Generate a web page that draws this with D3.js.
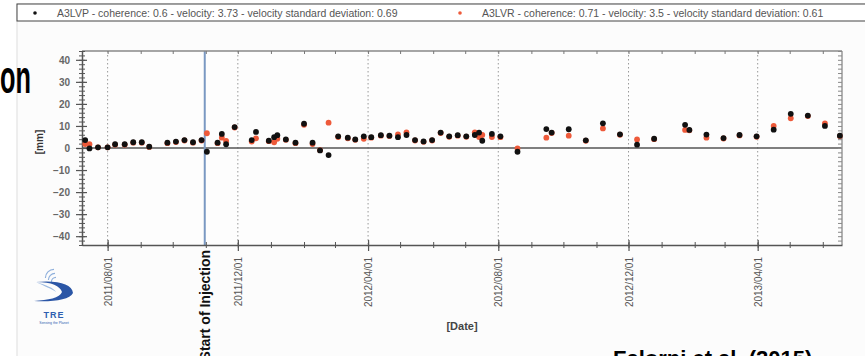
<!DOCTYPE html>
<html>
<head>
<meta charset="utf-8">
<script src="https://cdn.jsdelivr.net/npm/d3@7"></script>
<style>
  body { margin: 0; background: #fff; }
  text { font-family: Arial, "Liberation Sans", sans-serif; }
</style>
</head>
<body>
<div id="chart"></div>
<script>
// acquisition dates (both series share them)
const dates = [
  "2011-07-11", "2011-07-15", "2011-07-23", "2011-08-01", "2011-08-08", "2011-08-17",
  "2011-08-25", "2011-09-02", "2011-09-09", "2011-09-26", "2011-10-04", "2011-10-12",
  "2011-10-20", "2011-10-28", "2011-11-02", "2011-11-12", "2011-11-16", "2011-11-20",
  "2011-11-28", "2011-12-14", "2011-12-18", "2011-12-30", "2012-01-04", "2012-01-07",
  "2012-01-15", "2012-01-24", "2012-02-01", "2012-02-09", "2012-02-16", "2012-02-24",
  "2012-03-04", "2012-03-13", "2012-03-20", "2012-03-28", "2012-04-04", "2012-04-13",
  "2012-04-21", "2012-04-29", "2012-05-07", "2012-05-15", "2012-05-23", "2012-05-31",
  "2012-06-08", "2012-06-16", "2012-06-24", "2012-07-02", "2012-07-10", "2012-07-14",
  "2012-07-17", "2012-07-26", "2012-08-03", "2012-08-19", "2012-09-15", "2012-09-20",
  "2012-10-06", "2012-10-22", "2012-11-07", "2012-11-23", "2012-12-09", "2012-12-25",
  "2013-01-23", "2013-01-27", "2013-02-12", "2013-02-28", "2013-03-15", "2013-03-31",
  "2013-04-16", "2013-05-02", "2013-05-18", "2013-06-03", "2013-06-17"
];

// A3LVP (black) displacement [mm]
const valuesLVP = [
  3.6, -0.2, 0.3, 0.3, 1.7, 1.7, 2.6, 2.6, 0.6, 2.4, 2.9, 3.6,
  2.6, 3.6, -1.7, 2.4, 6.4, 1.7, 9.5, 3.6, 7.3, 3.3, 4.9, 5.8,
  3.9, 2.4, 11.0, 2.4, -1.1, -3.2, 5.3, 4.7, 3.9, 5.3, 4.9, 5.8,
  5.6, 4.9, 5.9, 3.6, 3.0, 3.6, 7.0, 5.3, 5.8, 5.3, 5.9, 7.0,
  3.3, 6.4, 5.3, -1.7, 8.6, 7.0, 8.5, 3.5, 11.2, 6.2, 1.5, 4.2,
  10.5, 8.2, 6.1, 4.5, 5.9, 5.3, 8.3, 15.5, 14.7, 10.0, 5.6
];

// A3LVR (red) displacement [mm]
const valuesLVR = [
  1.8, 1.7, 0.3, 0.3, 1.5, 1.5, 2.4, 2.4, 0.5, 2.2, 2.7, 3.4,
  2.4, 3.4, 6.7, 2.2, 4.7, 3.2, 9.3, 2.9, 4.4, 3.1, 2.6, 4.2,
  3.7, 2.2, 10.5, 1.8, -1.0, 11.5, 5.0, 4.4, 3.7, 4.2, 4.7, 5.6,
  5.4, 6.2, 7.1, 3.4, 2.8, 3.4, 6.8, 5.1, 5.6, 5.1, 7.1, 5.0,
  5.9, 5.0, 4.9, -0.2, 4.7, 6.8, 5.6, 3.3, 8.9, 6.0, 3.9, 4.0,
  8.2, 8.0, 4.7, 4.3, 5.7, 5.1, 10.0, 13.5, 14.5, 11.2, 5.4
];

const legendLabels = [
  "A3LVP - coherence: 0.6 - velocity: 3.73 - velocity standard deviation: 0.69",
  "A3LVR - coherence: 0.71 - velocity: 3.5 - velocity standard deviation: 0.61"
];
const majorTicks = ["2011-08-01", "2011-12-01", "2012-04-01", "2012-08-01", "2012-12-01", "2013-04-01"];
const yTicks = [-40, -30, -20, -10, 0, 10, 20, 30, 40];
const injectionDate = "2011-10-31";

const parse = d3.timeParse("%Y-%m-%d");
const fmt = d3.timeFormat("%Y/%m/%d");

const width = 865, height = 356;
const plotLeft = 82, plotRight = 842, plotTop = 51, plotBottom = 245;

const svg = d3.select("#chart").append("svg")
  .attr("width", width)
  .attr("height", height);

// panel
svg.append("rect")
  .attr("x", 17).attr("y", 4).attr("width", 870).attr("height", 360)
  .attr("fill", "#fcfcfc").attr("stroke", "#ddd");

const x = d3.scaleTime()
  .domain([parse("2011-07-08"), parse("2013-06-19")])
  .range([plotLeft, plotRight]);

const y = d3.scaleLinear()
  .domain([-44, 44])
  .range([plotBottom, plotTop]);

// plot background
svg.append("rect")
  .attr("x", plotLeft).attr("y", plotTop)
  .attr("width", plotRight - plotLeft).attr("height", plotBottom - plotTop)
  .attr("fill", "#fdfdfd");

// dotted grid at major dates
svg.append("g").selectAll("line")
  .data(majorTicks.map(parse))
  .join("line")
  .attr("x1", d => x(d)).attr("x2", d => x(d))
  .attr("y1", plotTop).attr("y2", plotBottom)
  .attr("stroke", "#999").attr("stroke-dasharray", "1.5,2.5");

// zero line
svg.append("line")
  .attr("x1", plotLeft).attr("x2", plotRight)
  .attr("y1", y(0)).attr("y2", y(0))
  .attr("stroke", "#555").attr("stroke-width", 1.5);

// start of injection
svg.append("line")
  .attr("x1", x(parse(injectionDate))).attr("x2", x(parse(injectionDate)))
  .attr("y1", plotTop).attr("y2", plotBottom)
  .attr("stroke", "#7a98c2").attr("stroke-width", 2);

// top and right borders
svg.append("line").attr("x1", plotLeft).attr("x2", plotRight).attr("y1", plotTop).attr("y2", plotTop)
  .attr("stroke", "#888").attr("stroke-width", 1.5);
svg.append("line").attr("x1", plotRight).attr("x2", plotRight).attr("y1", plotTop).attr("y2", plotBottom)
  .attr("stroke", "#999").attr("stroke-width", 1.5);

const months = d3.timeMonth.range(x.domain()[0], x.domain()[1]);
const minorY = d3.range(-44, 45, 2);

// top monthly ticks
svg.append("g")
  .attr("transform", `translate(0,${plotTop})`)
  .call(d3.axisTop(x).tickValues(months).tickSize(-3).tickFormat(""))
  .call(g => g.select(".domain").remove())
  .call(g => g.selectAll("line").attr("stroke", "#777"));

// right minor ticks
svg.append("g")
  .attr("transform", `translate(${plotRight},0)`)
  .call(d3.axisRight(y).tickValues(minorY).tickSize(-4).tickFormat(""))
  .call(g => g.select(".domain").remove())
  .call(g => g.selectAll("line").attr("stroke", "#888"));

// left minor ticks
svg.append("g")
  .attr("transform", `translate(${plotLeft},0)`)
  .call(d3.axisLeft(y).tickValues(minorY).tickSize(3).tickFormat(""))
  .call(g => g.select(".domain").remove())
  .call(g => g.selectAll("line").attr("x2", -3).attr("x1", 3).attr("stroke", "#555"));

// left axis
svg.append("g")
  .attr("transform", `translate(${plotLeft},0)`)
  .call(d3.axisLeft(y).tickValues(yTicks).tickSize(6).tickPadding(6).tickSizeOuter(0))
  .call(g => g.select(".domain").attr("stroke", "#555").attr("stroke-width", 1.5))
  .call(g => g.selectAll(".tick line").attr("x1", 5).attr("stroke", "#555").attr("stroke-width", 1.2))
  .call(g => g.selectAll(".tick text")
    .attr("fill", "#666").attr("font-size", 10).attr("font-weight", "bold")
    .attr("font-family", "Arial, 'Liberation Sans', sans-serif"));

// bottom monthly ticks
svg.append("g")
  .attr("transform", `translate(0,${plotBottom})`)
  .call(d3.axisBottom(x).tickValues(months).tickSize(3).tickFormat(""))
  .call(g => g.select(".domain").remove())
  .call(g => g.selectAll("line").attr("y1", -3).attr("stroke", "#555"));

// bottom axis
svg.append("g")
  .attr("transform", `translate(0,${plotBottom})`)
  .call(d3.axisBottom(x).tickValues(majorTicks.map(parse)).tickFormat(fmt).tickSize(6).tickSizeOuter(0))
  .call(g => g.select(".domain").attr("stroke", "#555").attr("stroke-width", 1.5))
  .call(g => g.selectAll(".tick line").attr("y1", -5).attr("stroke", "#555").attr("stroke-width", 1.2))
  .call(g => g.selectAll(".tick text")
    .attr("transform", "rotate(-90)")
    .attr("text-anchor", "end")
    .attr("x", -12).attr("y", 0).attr("dy", "0.35em")
    .attr("fill", "#555").attr("font-size", 10)
    .attr("font-family", "Arial, 'Liberation Sans', sans-serif"));

// points: red first, black on top
const pts = svg.append("g");
pts.selectAll(".lvr")
  .data(dates.map((d, i) => ({ date: parse(d), v: valuesLVR[i] })))
  .join("circle")
  .attr("class", "lvr")
  .attr("cx", d => x(d.date)).attr("cy", d => y(d.v))
  .attr("r", 2.9).attr("fill", "#ee5a3a");
pts.selectAll(".lvp")
  .data(dates.map((d, i) => ({ date: parse(d), v: valuesLVP[i] })))
  .join("circle")
  .attr("class", "lvp")
  .attr("cx", d => x(d.date)).attr("cy", d => y(d.v))
  .attr("r", 2.9).attr("fill", "#111");

// axis titles
svg.append("text")
  .attr("transform", "translate(43,142) rotate(-90)")
  .attr("text-anchor", "middle")
  .attr("font-size", 10).attr("font-weight", "bold").attr("fill", "#333")
  .text("[mm]");

svg.append("text")
  .attr("x", 462).attr("y", 330)
  .attr("text-anchor", "middle")
  .attr("font-size", 11).attr("font-weight", "bold").attr("fill", "#444")
  .text("[Date]");

svg.append("text")
  .attr("transform", `translate(${x(parse(injectionDate)) + 5},250) rotate(-90)`)
  .attr("text-anchor", "end")
  .attr("font-size", 14).attr("font-weight", "bold").attr("fill", "#111")
  .text("Start of Injection");

// legend
const legend = svg.append("g");
legend.append("rect")
  .attr("x", 17).attr("y", 4).attr("width", 870).attr("height", 17)
  .attr("fill", "#fff").attr("stroke", "#444");
const legendX = [35, 460];
const legendColors = ["#111", "#ee5a3a"];
legendLabels.forEach((label, i) => {
  legend.append("circle").attr("cx", legendX[i]).attr("cy", 13).attr("r", 1.8).attr("fill", legendColors[i]);
  legend.append("text")
    .attr("x", legendX[i] + 22).attr("y", 16.5)
    .attr("font-size", 10.5).attr("fill", "#555")
    .text(label);
});

// slide text fragments
svg.append("text")
  .attr("transform", "translate(0,93) scale(0.55,1)")
  .attr("font-size", 46).attr("font-weight", "bold").attr("fill", "#000")
  .text("on");

svg.append("text")
  .attr("x", 613).attr("y", 366)
  .attr("font-size", 22).attr("font-weight", "bold").attr("fill", "#000")
  .text("Falorni et al. (2015)");

// TRE logo
const logo = svg.append("g");
[[46, 270, 8], [49, 274, 6], [52, 278, 4]].forEach(([cx, cy, r]) => {
  logo.append("path")
    .attr("d", d3.arc()({ innerRadius: r, outerRadius: r + 1.2, startAngle: -Math.PI / 2, endAngle: 0 }))
    .attr("transform", `translate(${cx + r},${cy + r})`)
    .attr("fill", "#8fb0dc");
});
logo.append("path")
  .attr("d", "M36,282 C52,282 60,286 62,292 C60,298 48,300 34,301 C52,302 70,300 73,293 C72,284 58,280 36,282 Z")
  .attr("fill", "#2b56a6");
logo.append("path")
  .attr("d", "M36,282 C46,285 54,288 56,292 C52,289 44,286 36,282 Z")
  .attr("fill", "#9dbbe2");
logo.append("text")
  .attr("x", 54).attr("y", 318).attr("text-anchor", "middle")
  .attr("font-size", 9).attr("font-weight", "bold").attr("fill", "#2f5fb0")
  .attr("letter-spacing", 1)
  .text("TRE");
logo.append("text")
  .attr("x", 54).attr("y", 324).attr("text-anchor", "middle")
  .attr("font-size", 3.5).attr("fill", "#2f5fb0")
  .text("Sensing the Planet");
</script>
</body>
</html>
